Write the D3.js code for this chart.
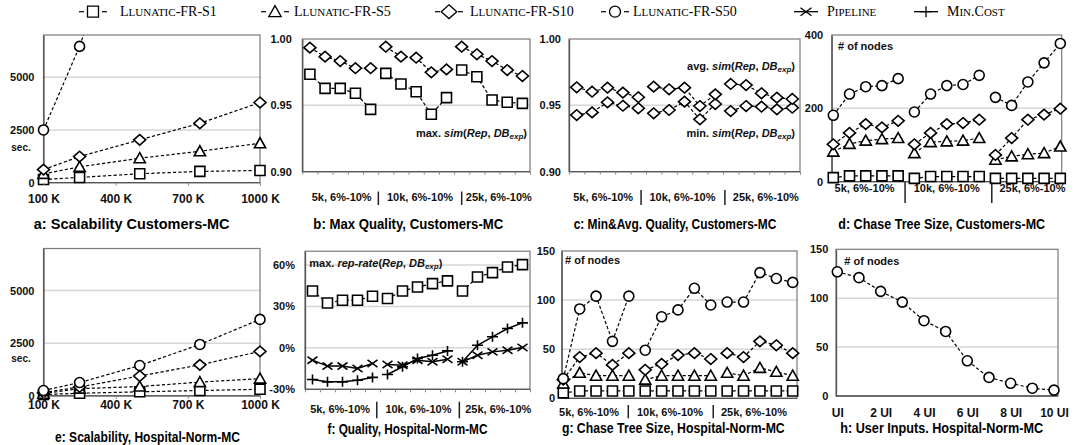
<!DOCTYPE html>
<html><head><meta charset="utf-8">
<script src="https://cdn.jsdelivr.net/npm/d3@7"></script>
<style>
body{margin:0;background:#fff;}
svg{display:block;}
</style></head><body>
<script>
// ---------- data ----------
const sizeValues = [100, 250, 500, 750, 1000];          // thousands of tuples
const sizeTicks = [100, 400, 700, 1000];
const sizeTickLabels = ["100 K", "400 K", "700 K", "1000 K"];
const timeTicks = [0, 2500, 5000];

// a: Customers-MC running time (sec.)
const custTimeS1  = [150, 250, 424, 535, 580];
const custTimeS5  = [420, 750, 1160, 1490, 1870];
const custTimeS10 = [620, 1240, 2030, 2815, 3800];
const custTimeS50 = [2500, 6460, 14800];

// e: Hospital-Norm-MC running time (sec.)
const hospTimeS1  = [60, 120, 190, 250, 310];
const hospTimeS5  = [100, 340, 440, 650, 815];
const hospTimeS10 = [150, 420, 940, 1470, 2110];
const hospTimeS50 = [250, 630, 1440, 2440, 3630];

// categories: database size x error rate
const dbSizes = ["5k", "10k", "25k"];
const errRates = ["6%", "7%", "8%", "9%", "10%"];
const groupLabels = ["5k, 6%-10%", "10k, 6%-10%", "25k, 6%-10%"];

// b: max similarity, Customers-MC
const maxSimS10 = [0.9935, 0.9867, 0.9834, 0.978, 0.978, 0.9942, 0.9867, 0.9859, 0.9749, 0.9771, 0.9942, 0.9885, 0.9834, 0.9766, 0.9721];
const maxSimS1  = [0.9734, 0.9628, 0.9628, 0.9591, 0.947, 0.9741, 0.9661, 0.9603, 0.9433, 0.9558, 0.9766, 0.9716, 0.954, 0.9523, 0.9515];
const simTicks = [0.90, 0.95, 1.00];

// c: average / minimum similarity, Customers-MC (S10)
const avgSimS10 = [0.9636, 0.9603, 0.9633, 0.9596, 0.9561, 0.9641, 0.9621, 0.9633, 0.9495, 0.9583, 0.9661, 0.9653, 0.9591, 0.9558, 0.9548];
const minSimS10 = [0.9427, 0.9447, 0.9523, 0.9497, 0.9478, 0.944, 0.9465, 0.9528, 0.9395, 0.951, 0.9457, 0.9495, 0.949, 0.947, 0.9482];

// d: chase tree size, Customers-MC
const custNodesS1  = [11, 16, 16, 16, 16, 9, 14, 14, 14, 14, 9, 9, 9, 9, 9];
const custNodesS5  = [82, 103, 112, 116, 119, 78, 108, 110, 112, 119, 60, 69, 75, 78, 96];
const custNodesS10 = [102, 133, 157, 148, 166, 102, 133, 157, 160, 169, 73, 119, 169, 183, 199];
const custNodesS50 = [181, 239, 259, 262, 281, 190, 239, 262, 265, 290, 230, 208, 272, 324, 377];
const custNodeTicks = [0, 200, 400];

// f: repair rate, Hospital-Norm-MC (%)
const repRateS1       = [41.2, 32.5, 34.5, 34.5, 37.4, 35.7, 41.2, 44.1, 46.5, 48.5, 41.2, 51.3, 54.5, 58.6, 60.3];
const repRatePipeline = [-8.9, -13.2, -13.2, -14.9, -11.3, -12, -12.5, -8.9, -10.1, -8.2, -10.1, -5.3, -2.9, -1.7, 0.3];
const repRateMinCost  = [-22.9, -24.6, -24.6, -23.4, -21.4, -19.3, -13.7, -7.7, -5.3, -2.2, -10.1, 1.9, 8, 14, 18.1];
const rateTicks = [-30, 0, 30, 60];

// g: chase tree size, Hospital-Norm-MC
const hospNodesS1  = [5.5, 7.5, 7.5, 7.5, 7.5, 7.5, 7.5, 7.5, 7.5, 7.5, 7.5, 7.5, 7.5, 7.5, 7.5];
const hospNodesS5  = [15, 26, 23, 23, 23, 19, 23, 23, 23, 23, 26, 23, 31, 27, 23];
const hospNodesS10 = [19, 42, 46, 34, 46, 29, 35, 44, 46, 40, 46, 42, 58, 54, 46];
const hospNodesS50 = [20, 91, 104, 58, 104, 49, 83, 90, 112, 95, 98, 98, 128, 122, 118];
const nodeTicks150 = [0, 50, 100, 150];

// h: user inputs, Hospital-Norm-MC
const userInputs = [0, 1, 2, 3, 4, 5, 6, 7, 8, 9, 10];
const uiNodes = [127, 121, 107, 96, 77, 66, 36, 19, 13, 8, 6];
const uiTicks = [0, 2, 4, 6, 8, 10];
const uiTickLabels = ["UI", "2 UI", "4 UI", "6 UI", "8 UI", "10 UI"];

const legendLabels = ["Llunatic-FR-S1", "Llunatic-FR-S5", "Llunatic-FR-S10", "Llunatic-FR-S50", "Pipeline", "Min.Cost"];
const titles = ["a: Scalability Customers-MC", "b: Max Quality, Customers-MC", "c: Min&Avg. Quality, Customers-MC",
  "d: Chase Tree Size, Customers-MC", "e: Scalability, Hospital-Norm-MC", "f: Quality, Hospital-Norm-MC",
  "g: Chase Tree Size, Hospital-Norm-MC", "h: User Inputs. Hospital-Norm-MC"];

// ---------- helpers ----------
const FONT = '"Liberation Sans", Arial, Helvetica, sans-serif';
const SERIF = '"Liberation Serif", "Times New Roman", serif';
const categories = dbSizes.flatMap(s => errRates.map(r => `${s} ${r}`));
const groupRanges = [[0, 5], [5, 10], [10, 15]];

const svg = d3.select("body").append("svg").attr("width", 1075).attr("height", 445);
const defs = svg.append("defs");
let clipCount = 0;

function markerPath(type, k = 1) {
  switch (type) {
    case "square": return `M${-5 * k},${-5 * k}h${10 * k}v${10 * k}h${-10 * k}Z`;
    case "diamond": return `M0,${-5.3 * k}L${6 * k},0L0,${5.3 * k}L${-6 * k},0Z`;
    case "triangle": return `M0,${-5.5 * k}L${5.6 * k},${4.5 * k}L${-5.6 * k},${4.5 * k}Z`;
    case "circle": { const r = 5 * k; return `M${r},0A${r},${r} 0 1,1 ${-r},0A${r},${r} 0 1,1 ${r},0Z`; }
    case "cross": return `M${-5 * k},${-3.6 * k}L${5 * k},${3.6 * k}M${-5 * k},${3.6 * k}L${5 * k},${-3.6 * k}`;
    case "plus": return `M${-5.5 * k},0H${5.5 * k}M0,${-5 * k}V${5 * k}`;
  }
}
function open(type) { return type === "cross" || type === "plus"; }

function setupPanel(p) {
  const g = svg.append("g");
  g.append("g").selectAll("line").data(p.grid).join("line")
    .attr("x1", p.x0).attr("x2", p.x1).attr("y1", d => p.y(d)).attr("y2", d => p.y(d))
    .attr("stroke", "#d6d6d6").attr("stroke-width", 1.5);
  g.append("rect").attr("x", p.x0).attr("y", p.y0).attr("width", p.x1 - p.x0).attr("height", p.y1 - p.y0)
    .attr("fill", "none").attr("stroke", "#7a7a7a").attr("stroke-width", 1.2);
  const ya = g.append("g").attr("transform", `translate(${p.x0},0)`)
    .call(d3.axisLeft(p.y).tickValues(p.yTicks).tickSize(0).tickSizeOuter(0).tickPadding(p.gap).tickFormat(p.yFmt));
  ya.select(".domain").attr("stroke", "#555").attr("stroke-width", 1.3);
  ya.selectAll("text").attr("font-family", FONT).attr("font-size", 11).attr("font-weight", "bold").attr("fill", "#111");
  g.append("line").attr("x1", p.x0).attr("x2", p.x1).attr("y1", p.y1).attr("y2", p.y1)
    .attr("stroke", "#555").attr("stroke-width", 1.3);
  const id = "clip" + (clipCount++);
  defs.append("clipPath").attr("id", id).append("rect")
    .attr("x", p.x0 - 12).attr("y", p.y0).attr("width", p.x1 - p.x0 + 24).attr("height", p.y1 - p.y0 + 12);
  p.plot = svg.append("g").attr("clip-path", `url(#${id})`);
  return p;
}

function categoryTicks(p) {
  const t = d3.scaleLinear().domain([0, 15]).range([p.x0, p.x1]);
  const ax = svg.append("g").attr("transform", `translate(0,${p.y1})`)
    .call(d3.axisBottom(t).tickValues(d3.range(16)).tickSize(3).tickSizeOuter(0).tickFormat(""));
  ax.select(".domain").remove();
  ax.selectAll("line").attr("stroke", "#8a8a8a");
}

function groupRow(p, labelFr, sepFr, ly, sepY) {
  const w = p.x1 - p.x0;
  svg.append("g").selectAll("text").data(groupLabels).join("text")
    .attr("x", (d, i) => p.x0 + labelFr[i] * w).attr("y", ly).attr("dy", "0.35em")
    .attr("text-anchor", "middle").attr("font-family", FONT).attr("font-size", 11).attr("font-weight", "bold")
    .attr("fill", "#111").text(d => d);
  svg.append("g").selectAll("line").data(sepFr).join("line")
    .attr("x1", d => p.x0 + d * w).attr("x2", d => p.x0 + d * w).attr("y1", sepY[0]).attr("y2", sepY[1])
    .attr("stroke", "#222").attr("stroke-width", 1.5);
}

// one series: connecting lines within each range, then the markers
function drawSeries(p, xf, values, type, solid, ranges) {
  const line = d3.line().x(d => xf(d.i)).y(d => p.y(d.v));
  const pts = values.map((v, i) => ({ i, v }));
  (ranges || [[0, values.length]]).forEach(([s, e]) => {
    p.plot.append("path").attr("d", line(pts.slice(s, e)))
      .attr("fill", "none").attr("stroke", "#000")
      .attr("stroke-width", solid ? 1.5 : 1.2)
      .attr("stroke-dasharray", solid ? null : "3.2,2.2");
  });
  p.plot.append("g").selectAll("path").data(pts).join("path")
    .attr("transform", d => `translate(${xf(d.i)},${p.y(d.v)})`)
    .attr("d", markerPath(type))
    .attr("fill", open(type) ? "none" : "#fff").attr("stroke", "#000").attr("stroke-width", 1.6);
}

function sizeAxis(p, labelTop) {
  const ax = svg.append("g").attr("transform", `translate(0,${p.y1})`)
    .call(d3.axisBottom(p.x).tickValues(sizeTicks).tickSize(3).tickSizeOuter(0)
      .tickFormat((d, i) => sizeTickLabels[i]));
  ax.select(".domain").remove();
  ax.selectAll("line").attr("stroke", "#8a8a8a");
  ax.selectAll("text").attr("y", labelTop).attr("font-family", FONT).attr("font-size", 12)
    .attr("font-weight", "bold").attr("fill", "#111");
}

function annot(x, y, anchor, prefix, fn) {
  const t = svg.append("text").attr("x", x).attr("y", y).attr("text-anchor", anchor)
    .attr("font-family", FONT).attr("font-size", 11).attr("font-weight", "bold").attr("fill", "#111");
  t.append("tspan").text(prefix);
  t.append("tspan").attr("font-style", "italic").text(fn);
  t.append("tspan").text("(");
  t.append("tspan").attr("font-style", "italic").text("Rep");
  t.append("tspan").text(", ");
  t.append("tspan").attr("font-style", "italic").text("DB");
  t.append("tspan").attr("font-style", "italic").attr("font-size", 8).attr("dy", 2).text("exp");
  t.append("tspan").attr("dy", -2).text(")");
}
function note(x, y, txt, size) {
  svg.append("text").attr("x", x).attr("y", y).attr("font-family", FONT).attr("font-size", size || 11)
    .attr("font-weight", "bold").attr("fill", "#111").attr("text-anchor", size ? "middle" : "start").text(txt);
}

// ---------- a / e: scalability ----------
function scalabilityPanel(y0, y1, labelTop, secY, s1, s5, s10, s50) {
  const p = { x0: 43.5, x1: 260, y0, y1, grid: [2500, 5000], yTicks: timeTicks, gap: 9, yFmt: d => d };
  p.x = d3.scaleLinear().domain([100, 1000]).range([p.x0, p.x1]);
  p.y = d3.scaleLinear().domain([0, 7000]).range([y1, y0]);
  setupPanel(p);
  sizeAxis(p, labelTop);
  note(21, secY, "sec.", 10);
  const xf = i => p.x(sizeValues[i]);
  drawSeries(p, xf, s1, "square", false);
  drawSeries(p, xf, s5, "triangle", false);
  drawSeries(p, xf, s10, "diamond", false);
  drawSeries(p, xf, s50, "circle", false);
}
scalabilityPanel(35, 182.7, 11.5, 150.5, custTimeS1, custTimeS5, custTimeS10, custTimeS50);
scalabilityPanel(248.5, 395.8, 5, 361.5, hospTimeS1, hospTimeS5, hospTimeS10, hospTimeS50);

// ---------- b: max quality ----------
{
  const p = { x0: 302.3, x1: 530, y0: 39, y1: 171.7, grid: [0.95], yTicks: simTicks, gap: 10.5, yFmt: d3.format(".2f") };
  p.y = d3.scaleLinear().domain([0.9, 1.0]).range([p.y1, p.y0]);
  setupPanel(p);
  categoryTicks(p);
  const x = d3.scaleBand().domain(categories).range([p.x0, p.x1]);
  const xf = i => x(categories[i]) + x.bandwidth() / 2;
  drawSeries(p, xf, maxSimS1, "square", false, groupRanges);
  drawSeries(p, xf, maxSimS10, "diamond", false, groupRanges);
  groupRow(p, [0.173, 0.517, 0.863], [0.334, 0.70], 196.7, [191.5, 205]);
  annot(527, 137, "end", "max. ", "sim");
}

// ---------- c: min & avg quality ----------
{
  const p = { x0: 569, x1: 800, y0: 39, y1: 171.7, grid: [0.95], yTicks: simTicks, gap: 8, yFmt: d3.format(".2f") };
  p.y = d3.scaleLinear().domain([0.9, 1.0]).range([p.y1, p.y0]);
  setupPanel(p);
  categoryTicks(p);
  const x = d3.scaleBand().domain(categories).range([p.x0, p.x1]);
  const xf = i => x(categories[i]) + x.bandwidth() / 2;
  drawSeries(p, xf, minSimS10, "diamond", false, groupRanges);
  drawSeries(p, xf, avgSimS10, "diamond", false, groupRanges);
  groupRow(p, [0.148, 0.491, 0.852], [0.312, 0.675], 196.7, [190, 205]);
  annot(795, 69.7, "end", "avg. ", "sim");
  annot(795, 137, "end", "min. ", "sim");
}

// ---------- d: chase tree size, Customers ----------
{
  const p = { x0: 831.7, x1: 1061.7, y0: 35, y1: 181.7, grid: [200], yTicks: custNodeTicks, gap: 8.5, yFmt: d => d };
  p.y = d3.scaleLinear().domain([0, 400]).range([p.y1, p.y0]);
  setupPanel(p);
  const x = d3.scalePoint().domain(categories).range([833.3, 1060.3]);
  const xf = i => x(categories[i]);
  drawSeries(p, xf, custNodesS1, "square", false, groupRanges);
  drawSeries(p, xf, custNodesS5, "triangle", false, groupRanges);
  drawSeries(p, xf, custNodesS10, "diamond", false, groupRanges);
  drawSeries(p, xf, custNodesS50, "circle", false, groupRanges);
  groupRow(p, [0.143, 0.5, 0.873], [0.319, 0.696], 188, [182, 203]);
  note(838, 49.7, "# of nodes");
}

// ---------- f: quality, Hospital ----------
{
  const p = { x0: 305, x1: 530, y0: 251.2, y1: 389.3, grid: [0, 30, 60], yTicks: rateTicks, gap: 10, yFmt: d => d + "%" };
  p.y = d3.scaleLinear().domain([-30, 70]).range([p.y1, p.y0]);
  setupPanel(p);
  categoryTicks(p);
  const x = d3.scaleBand().domain(categories).range([p.x0, p.x1]);
  const xf = i => x(categories[i]) + x.bandwidth() / 2;
  drawSeries(p, xf, repRateS1, "square", false, groupRanges);
  drawSeries(p, xf, repRatePipeline, "cross", true, groupRanges);
  drawSeries(p, xf, repRateMinCost, "plus", true, groupRanges);
  groupRow(p, [0.156, 0.504, 0.859], [0.319, 0.686], 409.3, [401.7, 418.3]);
  annot(309.3, 267.3, "start", "max. ", "rep-rate");
}

// ---------- g: chase tree size, Hospital ----------
{
  const p = { x0: 561.7, x1: 797, y0: 251, y1: 398.3, grid: [50, 100], yTicks: nodeTicks150, gap: 6.7, yFmt: d => d };
  p.y = d3.scaleLinear().domain([0, 150]).range([p.y1, p.y0]);
  setupPanel(p);
  const x = d3.scalePoint().domain(categories).range([563.3, 792.7]);
  const xf = i => x(categories[i]);
  drawSeries(p, xf, hospNodesS1, "square", false, groupRanges);
  drawSeries(p, xf, hospNodesS5, "triangle", false, groupRanges);
  drawSeries(p, xf, hospNodesS10, "diamond", false, groupRanges);
  drawSeries(p, xf, hospNodesS50, "circle", false, groupRanges);
  groupRow(p, [0.116, 0.46, 0.817], [0.283, 0.644], 411.7, [405, 418.3]);
  note(565, 264, "# of nodes");
}

// ---------- h: user inputs ----------
{
  const p = { x0: 836, x1: 1058, y0: 249.3, y1: 396, grid: [50, 100], yTicks: nodeTicks150, gap: 7.7, yFmt: d => d };
  p.y = d3.scaleLinear().domain([0, 150]).range([p.y1, p.y0]);
  setupPanel(p);
  const x = d3.scaleLinear().domain([0, 10]).range([837.3, 1054]);
  const ax = svg.append("g").attr("transform", `translate(0,${p.y1})`)
    .call(d3.axisBottom(x).tickValues(uiTicks).tickSize(0).tickFormat((d, i) => uiTickLabels[i]));
  ax.select(".domain").remove();
  ax.selectAll("text").attr("y", 12.3).attr("font-family", FONT).attr("font-size", 12)
    .attr("font-weight", "bold").attr("fill", "#111");
  drawSeries(p, i => x(userInputs[i]), uiNodes, "circle", false);
  note(844.3, 264.7, "# of nodes");
}

// ---------- titles (bold, horizontally condensed to their set widths) ----------
const titlePos = [[131.7, 224], [408.3, 224], [675, 224], [941.7, 224], [147.5, 436.5], [407.5, 429.3], [673.3, 428.3], [941.7, 428.3]];
const titleWidth = [197, 190, 203, 207, 185, 160, 223, 203];
titles.forEach((t, i) => {
  const el = svg.append("text").attr("x", 0).attr("y", 0).attr("dy", "0.35em")
    .attr("text-anchor", "middle").attr("font-family", FONT).attr("font-size", 14.5).attr("font-weight", "bold")
    .attr("fill", "#000").text(t);
  const natural = el.node().getComputedTextLength();
  const sx = Math.min(1, titleWidth[i] / natural);
  el.attr("transform", `translate(${titlePos[i][0]},${titlePos[i][1]}) scale(${sx},1)`);
});

// ---------- legend ----------
const legendTypes = ["square", "triangle", "diamond", "circle", "cross", "plus"];
const legendSym = [93, 275, 449, 615, 806, 926];
const legendText = [120, 294, 470, 633, 827, 947];
const lg = svg.append("g");
legendLabels.forEach((lab, i) => {
  const cx = legendSym[i], cy = 11.7, t = legendTypes[i];
  if (open(t)) {
    lg.append("line").attr("x1", cx - 12).attr("x2", cx + 12).attr("y1", cy).attr("y2", cy)
      .attr("stroke", "#000").attr("stroke-width", 1.3);
  } else {
    [[-14, -9], [9, 14]].forEach(([a, b]) => lg.append("line").attr("x1", cx + a).attr("x2", cx + b)
      .attr("y1", cy).attr("y2", cy).attr("stroke", "#000").attr("stroke-width", 1.2));
  }
  lg.append("path").attr("transform", `translate(${cx},${cy})`)
    .attr("d", markerPath(t, t === "diamond" ? 1.3 : 1.1))
    .attr("fill", open(t) ? "none" : "#fff").attr("stroke", "#000").attr("stroke-width", 1.3);
  // small caps: lower-case runs drawn as reduced capitals
  const txt = lg.append("text").attr("x", legendText[i]).attr("y", 16).attr("font-family", SERIF).attr("fill", "#000");
  lab.match(/[a-z]+|[^a-z]+/g).forEach(run => {
    const lower = /[a-z]/.test(run[0]);
    txt.append("tspan").attr("font-size", lower ? 11 : 14).text(lower ? run.toUpperCase() : run);
  });
});
</script>
</body></html>
